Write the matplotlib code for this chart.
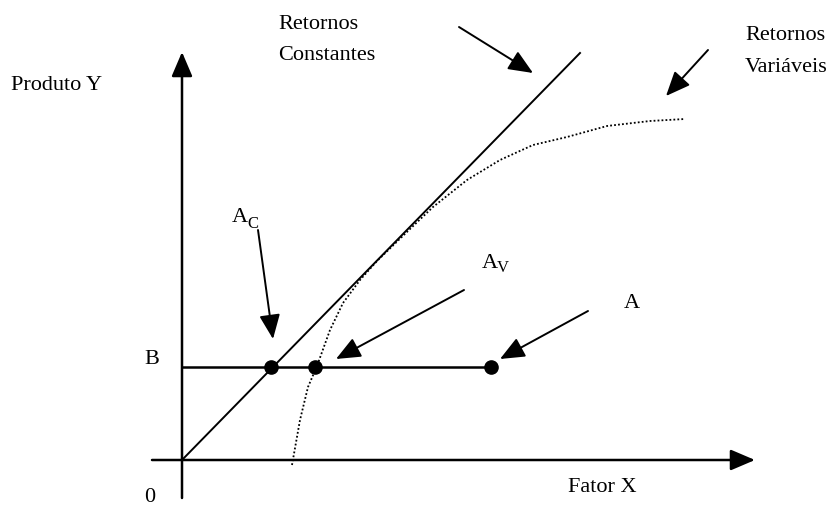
import matplotlib.pyplot as plt

# Dados (unidades do esquema, origem no cruzamento dos eixos)
curva_x = [110, 118, 126, 135, 148, 161, 178, 195, 228, 251, 285, 318, 351, 385, 425, 468, 503]
curva_y = [-5, 40, 73, 94, 130, 157, 180, 199, 231, 253, 280, 300, 315, 323, 334, 339, 341]

reta_x = [0, 398]
reta_y = [0, 407]

nivel_b = 93
pontos_x = [89, 133, 309]

# setas: (cauda, ponta)
setas = [
    ((277, 433), (351, 387)),   # Retornos Constantes
    ((526, 410), (484, 364)),   # Retornos Variáveis
    ((76, 230), (91, 121)),     # A_C
    ((282, 170), (154, 101)),   # A_V
    ((406, 149), (318, 101)),   # A
]

fonte = 'Liberation Serif'

fig = plt.figure(figsize=(8.28, 5.09), dpi=100)
ax = fig.add_axes([0, 0, 1, 1])
ax.set_xlim(-182, 646)
ax.set_ylim(-49, 460)
ax.axis('off')

cabeca = dict(arrowstyle='-|>,head_length=0.75,head_width=0.32', mutation_scale=20,
              color='black', shrinkA=0, shrinkB=0)

# Eixos
ax.annotate('', xy=(0, 408), xytext=(0, -38), arrowprops=dict(cabeca, lw=1.8))
ax.annotate('', xy=(573, 0), xytext=(-30, 0), arrowprops=dict(cabeca, lw=1.8))

# Retornos constantes e variáveis
ax.plot(reta_x, reta_y, color='black', lw=1.4)
ax.plot(curva_x, curva_y, color='black', lw=1.3, linestyle=(0, (1, 1.2)))

# Linha B e pontos
ax.plot([0, pontos_x[-1]], [nivel_b, nivel_b], color='black', lw=1.8)
ax.plot(pontos_x, [nivel_b] * len(pontos_x), 'o', color='black', markersize=9.5)

# Setas indicativas
for cauda, ponta in setas:
    ax.annotate('', xy=ponta, xytext=cauda, arrowprops=dict(cabeca, lw=1.4))

# Textos
def texto(x, y, s, tam=16, va='baseline'):
    ax.text(x, y, s, fontsize=tam, family=fonte, va=va, ha='left')

texto(96, 431, 'Retornos')
texto(96, 400, 'Constantes')
texto(563, 420, 'Retornos')
texto(563, 388, 'Variáveis')
texto(-171, 370, 'Produto Y')
texto(50, 238, 'A')
texto(65, 232, 'C', 12)
texto(300, 192, 'A')
texto(315, 188, 'V', 12)
texto(442, 152, 'A')
texto(-38, 96, 'B')
texto(-38, -47.5, '0', va='bottom')
texto(386, -32, 'Fator X')

fig.savefig('out.png', dpi=100)
